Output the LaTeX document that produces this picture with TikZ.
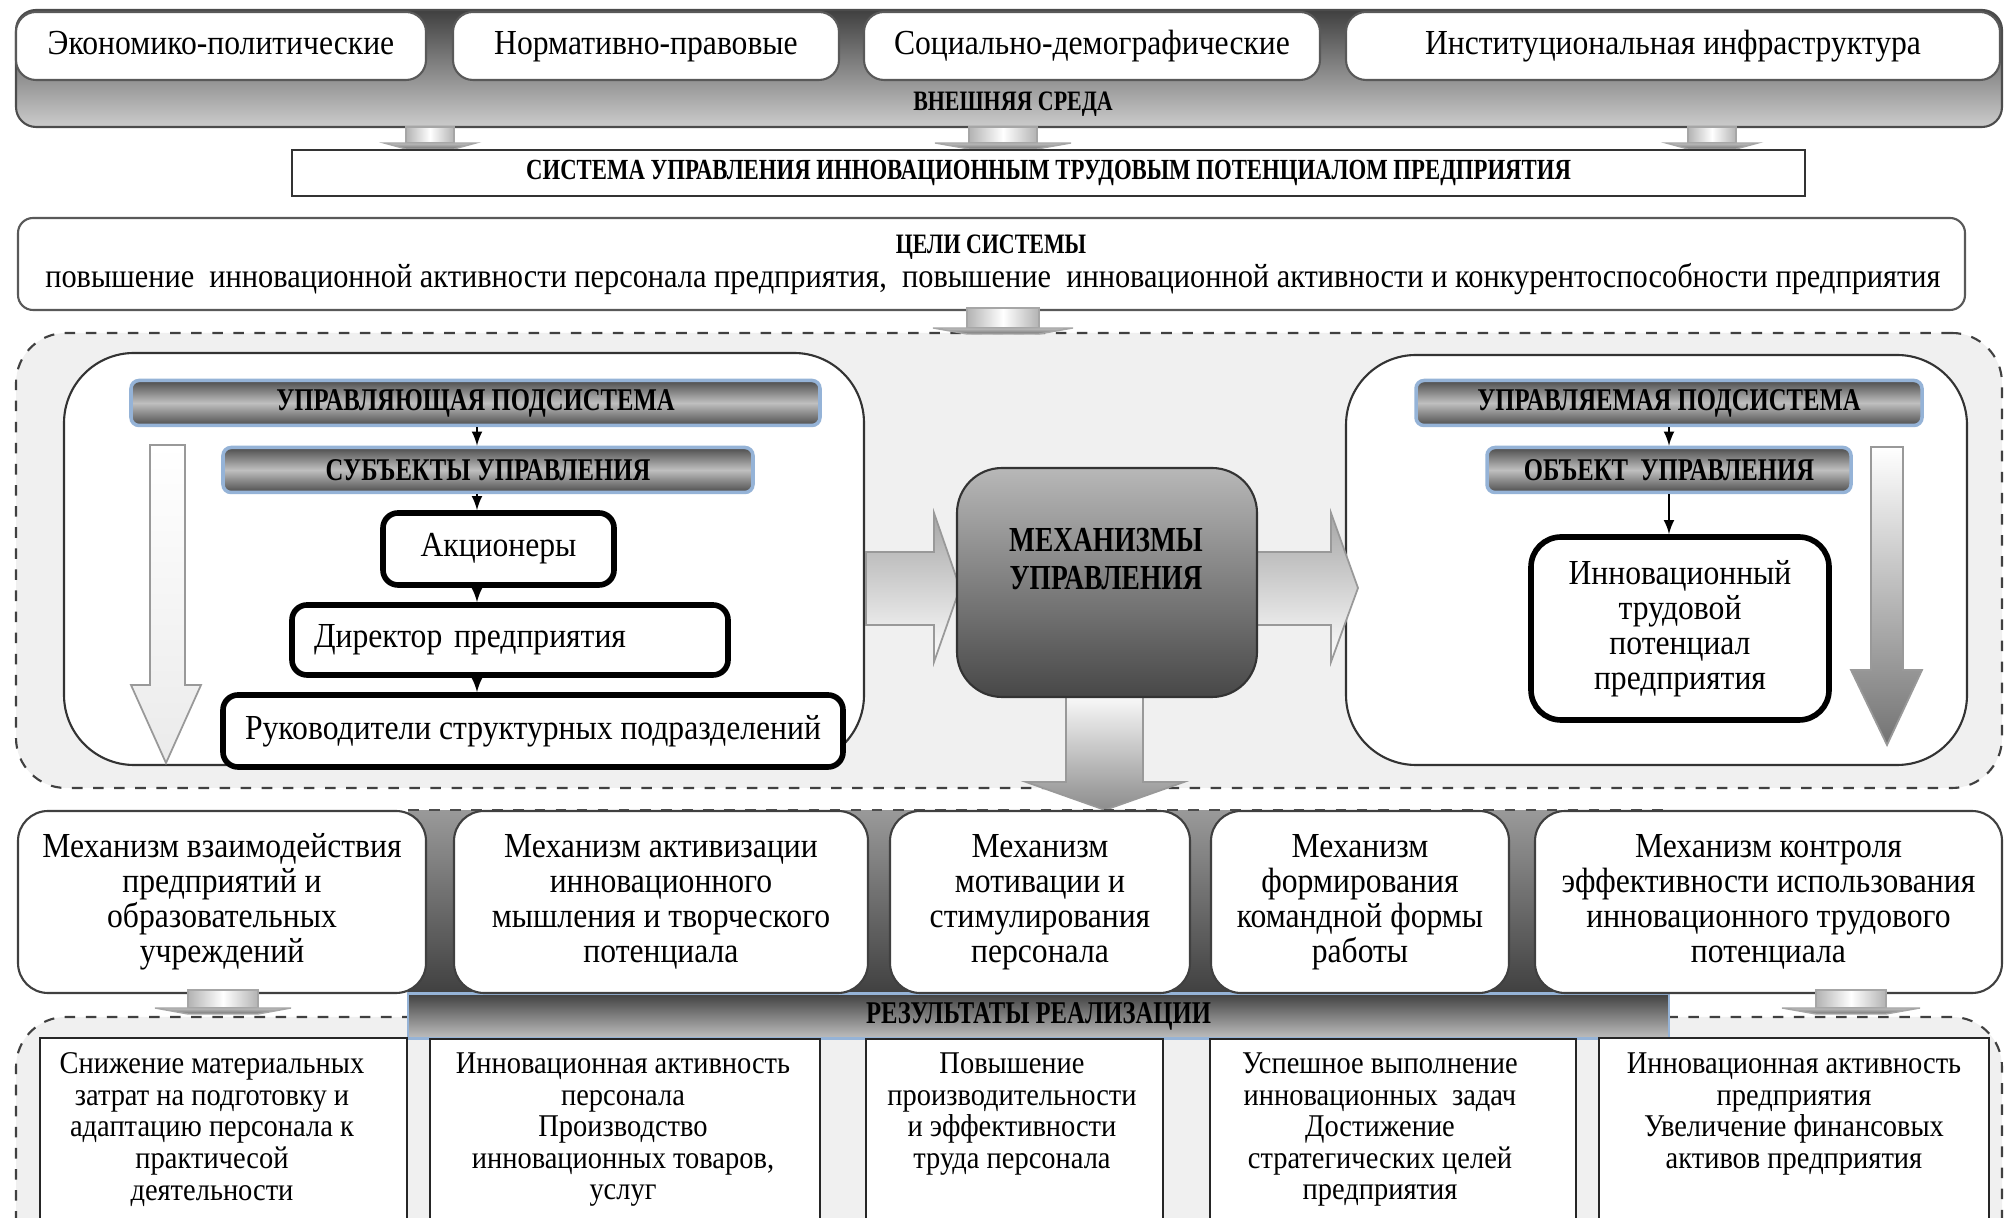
\documentclass[tikz,border=0pt]{standalone}
\usepackage{fontspec}
\setmainfont{Liberation Serif}[FakeStretch=0.9]
\newfontfamily\condfont{Liberation Serif}[FakeStretch=0.78]
\definecolor{barline}{HTML}{95B3D7}

% flat block arrow: centre x, top y, bottom y, stem half width, head half width
\newcommand{\flatarr}[5]{%
  \shade[draw=black!35, left color=black!30, right color=black!30, middle color=white] (#1-#4,#2) rectangle (#1+#4,#3-6);
  \shade[draw=black!35, top color=black!25, bottom color=black!55] (#1-#5,#3-6) -- (#1+#5,#3-6) -- (#1+#4,#3) -- (#1-#4,#3) -- cycle;}

\begin{document}
\begin{tikzpicture}[x=0.1mm,y=-0.1mm,
    txt/.style={font=\fontsize{10}{10}\selectfont, align=center, inner sep=0pt},
    ttl/.style={font=\condfont\bfseries\fontsize{8}{9}\selectfont, inner sep=0pt},
    factor/.style={draw=black!65, fill=white, rounded corners=2mm, line width=0.6pt, inner sep=0pt, text height=2.4mm, text depth=0.7mm},
    bar/.style={draw=barline, line width=1pt, rounded corners=0.8mm, top color=black!70, bottom color=black!70, middle color=black!25, inner sep=0pt, minimum height=4.5mm, font=\condfont\bfseries\fontsize{9}{10}\selectfont},
    thickbox/.style={draw=black, fill=white, line width=1.6pt, rounded corners=1.5mm, inner sep=0pt, font=\fontsize{10}{10}\selectfont},
    mechbox/.style={draw=black!75, fill=white, line width=0.6pt, rounded corners=3mm, minimum height=18.2mm, inner sep=0pt, align=center, font=\fontsize{10}{10}\selectfont},
    resbox/.style={draw=black!85, fill=white, line width=0.5pt, minimum height=25mm, inner sep=0pt},
    restxt/.style={font=\fontsize{9}{9}\selectfont, align=center, anchor=north, inner sep=0pt},
    region/.style={draw=black!75, dashed, line width=0.6pt, fill=black!6, rounded corners=5mm, inner sep=0pt},
    bigarr/.style={draw=black!40, line width=0.5pt}]
    \useasboundingbox (0,0) rectangle (2004,1218);
    \clip (0,0) rectangle (2004,1218);

    % external environment
    \node[draw=black!70, line width=0.6pt, top color=black!75, bottom color=black!20, rounded corners=2mm, minimum width=198.6mm, minimum height=11.7mm, inner sep=0pt] (env) at (1009,68.5) {};
    \node[factor, txt, minimum width=41mm, minimum height=6.8mm] (econ) at (221,46) {Экономико-политические};
    \node[factor, txt, minimum width=38.6mm, minimum height=6.8mm] (norm) at (646,46) {Нормативно-правовые};
    \node[factor, txt, minimum width=45.6mm, minimum height=6.8mm] (soc) at (1092,46) {Социально-демографические};
    \node[factor, txt, minimum width=65.4mm, minimum height=6.8mm] (inst) at (1673,46) {Институциональная инфраструктура};
    \node[ttl] (envlbl) at (1013,104) {ВНЕШНЯЯ СРЕДА};
    \flatarr{430}{127}{149}{24}{46}
    \flatarr{1003}{127}{149}{34}{68}
    \flatarr{1712}{127}{149}{24}{46}

    \node[draw=black!80, fill=white, line width=0.6pt, minimum width=151.3mm, minimum height=4.6mm, ttl, font=\condfont\bfseries\fontsize{8.3}{9}\selectfont] (sys) at (1048.5,173) {СИСТЕМА УПРАВЛЕНИЯ ИННОВАЦИОННЫМ ТРУДОВЫМ ПОТЕНЦИАЛОМ ПРЕДПРИЯТИЯ};

    % goals
    \node[factor, rounded corners=1.5mm, minimum width=194.7mm, minimum height=9.2mm] (goals) at (991.5,264) {};
    \node[ttl] (goalsttl) at (991,247) {ЦЕЛИ СИСТЕМЫ};
    \node[txt, font=\fontsize{9.6}{10}\selectfont] (goalstxt) at (993,279) {повышение\ \ инновационной активности персонала предприятия,\ \ повышение\ \ инновационной активности и конкурентоспособности предприятия};

    % management system
    \node[region, minimum width=198.6mm, minimum height=45.5mm] (mid) at (1009,560.5) {};
    \flatarr{1003}{308}{334}{36}{70}

    \node[draw=black!80, fill=white, line width=0.6pt, rounded corners=7mm, minimum width=80mm, minimum height=41.2mm] (ctrl) at (464,559) {};
    \node[bar, minimum width=68.9mm] (ctrlhead) at (475.5,403) {УПРАВЛЯЮЩАЯ ПОДСИСТЕМА};
    \node[bar, minimum width=53mm] (subj) at (488,470) {СУБЪЕКТЫ УПРАВЛЕНИЯ};
    \node[thickbox, minimum width=23.1mm, minimum height=7.2mm] (akc) at (498.5,549) {Акционеры};
    \node[thickbox, text width=39.2mm, inner xsep=2.2mm, minimum height=7mm, align=left] (dir) at (510,640) {Директор предприятия};
    \node[thickbox, minimum width=62mm, minimum height=7.2mm] (heads) at (533,731) {Руководители структурных подразделений};
    \coordinate (lx) at (477,0);
    \draw[-latex] (ctrlhead.south -| lx) -- (subj.north -| lx);
    \draw[-latex] (subj.south -| lx) -- (akc.north -| lx);
    \draw[-latex] (akc.south -| lx) -- (dir.north -| lx);
    \draw[-latex] (dir.south -| lx) -- (heads.north -| lx);
    \shade[bigarr, top color=white, middle color=black!35, bottom color=black!8] (150,445) -- (185,445) -- (185,685) -- (201,685) -- (166,763) -- (131,685) -- (150,685) -- cycle;

    \node[draw=black!80, fill=white, line width=0.6pt, rounded corners=7mm, minimum width=62.1mm, minimum height=41mm] (obj) at (1656.5,560) {};
    \node[bar, minimum width=50.6mm] (objhead) at (1669,403) {УПРАВЛЯЕМАЯ ПОДСИСТЕМА};
    \node[bar, minimum width=36.4mm] (objsub) at (1669,470) {ОБЪЕКТ\ \ УПРАВЛЕНИЯ};
    \node[thickbox, rounded corners=3mm, minimum width=29.8mm, minimum height=18.3mm, align=center] (inn) at (1680,628.5) {Инновационный\\трудовой\\потенциал\\предприятия};
    \coordinate (rx) at (1669,0);
    \draw[-latex] (objhead.south -| rx) -- (objsub.north -| rx);
    \draw[-latex] (objsub.south -| rx) -- (inn.north -| rx);
    \shade[bigarr, top color=white, bottom color=black!55] (1871,447) -- (1903,447) -- (1903,670) -- (1922,670) -- (1887,745) -- (1851,670) -- (1871,670) -- cycle;

    % mechanisms
    \shade[bigarr, top color=black!35, bottom color=white] (866,552) -- (934,552) -- (934,513) -- (960,588) -- (934,662) -- (934,625) -- (866,625) -- cycle;
    \shade[bigarr, top color=black!35, bottom color=white] (1257,552) -- (1331,552) -- (1331,513) -- (1358,588) -- (1331,662) -- (1331,625) -- (1257,625) -- cycle;
    \shade[bigarr, top color=white, bottom color=black!45] (1066,690) -- (1143,690) -- (1143,782) -- (1184,782) -- (1105,810) -- (1026,782) -- (1066,782) -- cycle;
    \node[draw=black!80, line width=0.6pt, rounded corners=4.5mm, top color=black!28, bottom color=black!72, minimum width=30mm, minimum height=22.9mm] (mech) at (1107,582.5) {};
    \node[font=\condfont\bfseries\fontsize{10}{11}\selectfont, align=center, inner sep=0pt] (mechlbl) at (1106,559) {МЕХАНИЗМЫ\\УПРАВЛЕНИЯ};

    % results
    \node[region, minimum width=198.6mm, minimum height=25mm] (resreg) at (1009,1142) {};
    \shade[top color=black!40, bottom color=black!75] (408,811) rectangle (1669,994);
    \draw[dashed, black!70] (408,810) -- (1669,810);
    \node[draw=barline, line width=0.8pt, top color=black!75, bottom color=black!25, minimum width=126.1mm, minimum height=4.5mm, ttl, font=\condfont\bfseries\fontsize{9}{9}\selectfont] (resbar) at (1038.5,1016) {РЕЗУЛЬТАТЫ РЕАЛИЗАЦИИ};

    \node[mechbox, minimum width=40.8mm] (m1) at (222,902) {Механизм взаимодействия\\предприятий и\\образовательных\\учреждений};
    \node[mechbox, minimum width=41.4mm] (m2) at (661,902) {Механизм активизации\\инновационного\\мышления и творческого\\потенциала};
    \node[mechbox, minimum width=30mm] (m3) at (1040,902) {Механизм\\мотивации и\\стимулирования\\персонала};
    \node[mechbox, minimum width=29.8mm] (m4) at (1360,902) {Механизм\\формирования\\командной формы\\работы};
    \node[mechbox, minimum width=46.7mm] (m5) at (1768.5,902) {Механизм контроля\\эффективности использования\\инновационного трудового\\потенциала};
    \flatarr{223}{990}{1014}{35}{68}
    \flatarr{1851}{990}{1014}{35}{69}

    \node[resbox, minimum width=36.7mm] (r1) at (223.5,1163) {};
    \node[resbox, minimum width=39mm] (r2) at (625,1164) {};
    \node[resbox, minimum width=29.7mm] (r3) at (1014.5,1164) {};
    \node[resbox, minimum width=36.6mm] (r4) at (1393,1164) {};
    \node[resbox, minimum width=39mm] (r5) at (1794,1163) {};
    \node[restxt] (r1t) at (212,1052) {Снижение материальных\\затрат на подготовку и\\адаптацию персонала к\\практичесой\\деятельности};
    \node[restxt] (r2t) at (623,1052) {Инновационная активность\\персонала\\Производство\\инновационных товаров,\\услуг};
    \node[restxt] (r3t) at (1012,1052) {Повышение\\производительности\\и эффективности\\труда персонала};
    \node[restxt] (r4t) at (1380,1052) {Успешное выполнение\\инновационных\ \ задач\\Достижение\\стратегических целей\\предприятия};
    \node[restxt] (r5t) at (1794,1052) {Инновационная активность\\предприятия\\Увеличение финансовых\\активов предприятия};
\end{tikzpicture}
\end{document}
